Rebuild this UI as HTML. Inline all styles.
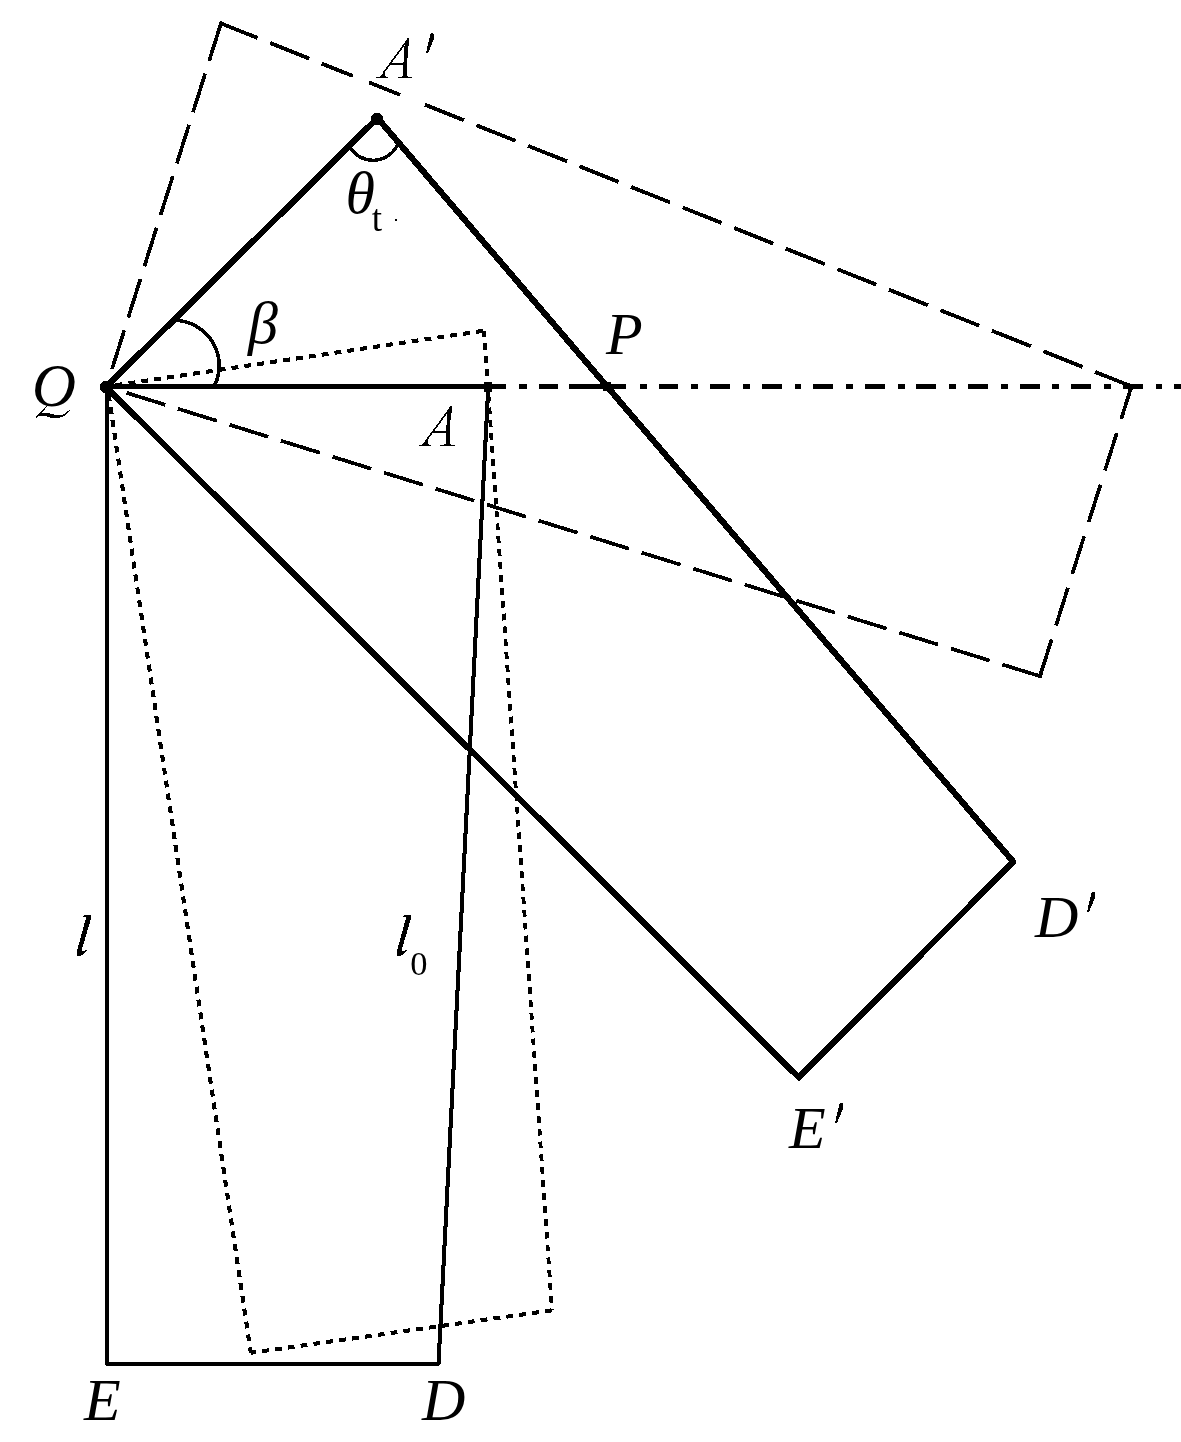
<!DOCTYPE html>
<html><head><meta charset="utf-8"><style>
html,body{margin:0;padding:0;background:#fff;width:1181px;height:1442px;overflow:hidden}
svg{display:block;will-change:transform;shape-rendering:crispEdges}
</style></head><body>
<svg width="1181" height="1442" viewBox="0 0 1181 1442">
<rect width="1181" height="1442" fill="#fff"/>
<g stroke="#000" fill="#000">
<path d="M106.2,386.9 L377.54,117.96 L1013.33,861.87 L798.8,1077.4 Z" fill="none" stroke-width="6.2" stroke-linejoin="round"/>
<path d="M107,386.6 L107,1363.7 L438.5,1363.7 L488.3,386.6" fill="none" stroke-width="4.05" stroke-linejoin="round"/>
<line x1="104" y1="386.6" x2="506.4" y2="386.6" stroke-width="4.8" stroke-linecap="butt"/>
<line x1="518.6" y1="386.5" x2="526.7" y2="386.5" stroke-width="4.9" stroke-linecap="butt"/>
<line x1="538.9" y1="386.5" x2="558.2" y2="386.5" stroke-width="4.9" stroke-linecap="butt"/>
<line x1="569.4" y1="386.5" x2="626.3" y2="386.5" stroke-width="4.9" stroke-linecap="butt"/>
<line x1="639.76" y1="386.5" x2="646.56" y2="386.5" stroke-width="4.9" stroke-linecap="butt"/>
<line x1="658.51" y1="386.5" x2="678.41" y2="386.5" stroke-width="4.9" stroke-linecap="butt"/>
<line x1="691.35" y1="386.5" x2="698.15" y2="386.5" stroke-width="4.9" stroke-linecap="butt"/>
<line x1="710.1" y1="386.5" x2="730" y2="386.5" stroke-width="4.9" stroke-linecap="butt"/>
<line x1="742.94" y1="386.5" x2="749.74" y2="386.5" stroke-width="4.9" stroke-linecap="butt"/>
<line x1="761.69" y1="386.5" x2="781.59" y2="386.5" stroke-width="4.9" stroke-linecap="butt"/>
<line x1="794.53" y1="386.5" x2="801.33" y2="386.5" stroke-width="4.9" stroke-linecap="butt"/>
<line x1="813.28" y1="386.5" x2="833.18" y2="386.5" stroke-width="4.9" stroke-linecap="butt"/>
<line x1="846.12" y1="386.5" x2="852.92" y2="386.5" stroke-width="4.9" stroke-linecap="butt"/>
<line x1="864.87" y1="386.5" x2="884.77" y2="386.5" stroke-width="4.9" stroke-linecap="butt"/>
<line x1="897.71" y1="386.5" x2="904.51" y2="386.5" stroke-width="4.9" stroke-linecap="butt"/>
<line x1="916.46" y1="386.5" x2="936.36" y2="386.5" stroke-width="4.9" stroke-linecap="butt"/>
<line x1="949.3" y1="386.5" x2="956.1" y2="386.5" stroke-width="4.9" stroke-linecap="butt"/>
<line x1="968.05" y1="386.5" x2="987.95" y2="386.5" stroke-width="4.9" stroke-linecap="butt"/>
<line x1="1000.89" y1="386.5" x2="1007.69" y2="386.5" stroke-width="4.9" stroke-linecap="butt"/>
<line x1="1019.64" y1="386.5" x2="1039.54" y2="386.5" stroke-width="4.9" stroke-linecap="butt"/>
<line x1="1052.48" y1="386.5" x2="1059.28" y2="386.5" stroke-width="4.9" stroke-linecap="butt"/>
<line x1="1071.23" y1="386.5" x2="1091.13" y2="386.5" stroke-width="4.9" stroke-linecap="butt"/>
<line x1="1104.07" y1="386.5" x2="1110.87" y2="386.5" stroke-width="4.9" stroke-linecap="butt"/>
<line x1="1122.82" y1="386.5" x2="1142.72" y2="386.5" stroke-width="4.9" stroke-linecap="butt"/>
<line x1="1155.66" y1="386.5" x2="1162.46" y2="386.5" stroke-width="4.9" stroke-linecap="butt"/>
<line x1="1174.41" y1="386.5" x2="1190" y2="386.5" stroke-width="4.9" stroke-linecap="butt"/>
<line x1="221" y1="23.4" x2="257.7" y2="38.03" stroke-width="3.83" stroke-linecap="butt"/>
<line x1="270.25" y1="43.04" x2="309.25" y2="58.58" stroke-width="3.83" stroke-linecap="butt"/>
<line x1="424.9" y1="104.69" x2="463.9" y2="120.24" stroke-width="3.83" stroke-linecap="butt"/>
<line x1="476.45" y1="125.24" x2="515.45" y2="140.79" stroke-width="3.83" stroke-linecap="butt"/>
<line x1="528" y1="145.8" x2="567" y2="161.34" stroke-width="3.83" stroke-linecap="butt"/>
<line x1="579.55" y1="166.35" x2="618.55" y2="181.9" stroke-width="3.83" stroke-linecap="butt"/>
<line x1="631.1" y1="186.9" x2="670.1" y2="202.45" stroke-width="3.83" stroke-linecap="butt"/>
<line x1="682.65" y1="207.45" x2="721.65" y2="223" stroke-width="3.83" stroke-linecap="butt"/>
<line x1="734.2" y1="228" x2="773.2" y2="243.55" stroke-width="3.83" stroke-linecap="butt"/>
<line x1="785.75" y1="248.56" x2="824.75" y2="264.1" stroke-width="3.83" stroke-linecap="butt"/>
<line x1="837.3" y1="269.11" x2="876.3" y2="284.66" stroke-width="3.83" stroke-linecap="butt"/>
<line x1="888.85" y1="289.66" x2="927.85" y2="305.21" stroke-width="3.83" stroke-linecap="butt"/>
<line x1="940.4" y1="310.21" x2="979.4" y2="325.76" stroke-width="3.83" stroke-linecap="butt"/>
<line x1="991.95" y1="330.76" x2="1030.95" y2="346.31" stroke-width="3.83" stroke-linecap="butt"/>
<line x1="1043.5" y1="351.32" x2="1082.5" y2="366.86" stroke-width="3.83" stroke-linecap="butt"/>
<line x1="1095.05" y1="371.87" x2="1131.5" y2="386.4" stroke-width="3.83" stroke-linecap="butt"/>
<line x1="321.8" y1="63.59" x2="352.8" y2="75.95" stroke-width="3.83" stroke-linecap="butt"/>
<line x1="369.1" y1="82.44" x2="400.1" y2="94.8" stroke-width="3.83" stroke-linecap="butt"/>
<line x1="221" y1="23.4" x2="209.18" y2="60.9" stroke-width="3.7" stroke-linecap="butt"/>
<line x1="205.19" y1="73.55" x2="192.99" y2="112.25" stroke-width="3.7" stroke-linecap="butt"/>
<line x1="189" y1="124.9" x2="176.8" y2="163.6" stroke-width="3.7" stroke-linecap="butt"/>
<line x1="172.81" y1="176.25" x2="160.61" y2="214.95" stroke-width="3.7" stroke-linecap="butt"/>
<line x1="156.63" y1="227.6" x2="144.42" y2="266.3" stroke-width="3.7" stroke-linecap="butt"/>
<line x1="140.44" y1="278.95" x2="128.24" y2="317.65" stroke-width="3.7" stroke-linecap="butt"/>
<line x1="124.25" y1="330.3" x2="112.05" y2="369" stroke-width="3.7" stroke-linecap="butt"/>
<line x1="1131.5" y1="386.4" x2="1121.21" y2="419" stroke-width="3.7" stroke-linecap="butt"/>
<line x1="1116.79" y1="433" x2="1104.92" y2="470.6" stroke-width="3.7" stroke-linecap="butt"/>
<line x1="1100.49" y1="484.6" x2="1088.62" y2="522.2" stroke-width="3.7" stroke-linecap="butt"/>
<line x1="1084.2" y1="536.2" x2="1072.33" y2="573.8" stroke-width="3.7" stroke-linecap="butt"/>
<line x1="1067.91" y1="587.8" x2="1056.04" y2="625.4" stroke-width="3.7" stroke-linecap="butt"/>
<line x1="1051.62" y1="639.4" x2="1040" y2="676.2" stroke-width="3.7" stroke-linecap="butt"/>
<line x1="126.5" y1="392.8" x2="165.3" y2="404.84" stroke-width="3.69" stroke-linecap="butt"/>
<line x1="178.02" y1="408.79" x2="216.82" y2="420.82" stroke-width="3.69" stroke-linecap="butt"/>
<line x1="229.54" y1="424.77" x2="268.34" y2="436.81" stroke-width="3.69" stroke-linecap="butt"/>
<line x1="281.06" y1="440.75" x2="319.86" y2="452.79" stroke-width="3.69" stroke-linecap="butt"/>
<line x1="332.58" y1="456.74" x2="371.38" y2="468.77" stroke-width="3.69" stroke-linecap="butt"/>
<line x1="384.1" y1="472.72" x2="422.9" y2="484.76" stroke-width="3.69" stroke-linecap="butt"/>
<line x1="435.62" y1="488.7" x2="474.42" y2="500.74" stroke-width="3.69" stroke-linecap="butt"/>
<line x1="487.14" y1="504.69" x2="525.94" y2="516.72" stroke-width="3.69" stroke-linecap="butt"/>
<line x1="538.66" y1="520.67" x2="577.46" y2="532.71" stroke-width="3.69" stroke-linecap="butt"/>
<line x1="590.18" y1="536.65" x2="628.98" y2="548.69" stroke-width="3.69" stroke-linecap="butt"/>
<line x1="641.7" y1="552.64" x2="680.5" y2="564.67" stroke-width="3.69" stroke-linecap="butt"/>
<line x1="693.22" y1="568.62" x2="732.02" y2="580.66" stroke-width="3.69" stroke-linecap="butt"/>
<line x1="744.74" y1="584.6" x2="783.54" y2="596.64" stroke-width="3.69" stroke-linecap="butt"/>
<line x1="796.26" y1="600.58" x2="835.06" y2="612.62" stroke-width="3.69" stroke-linecap="butt"/>
<line x1="847.78" y1="616.57" x2="886.58" y2="628.6" stroke-width="3.69" stroke-linecap="butt"/>
<line x1="899.3" y1="632.55" x2="938.1" y2="644.59" stroke-width="3.69" stroke-linecap="butt"/>
<line x1="950.82" y1="648.53" x2="989.62" y2="660.57" stroke-width="3.69" stroke-linecap="butt"/>
<line x1="1002.34" y1="664.52" x2="1040" y2="676.2" stroke-width="3.69" stroke-linecap="butt"/>
<path d="M219.5,28.17 L221,23.4 L225.64,25.25" fill="none" stroke-width="3.9" stroke-linejoin="miter"/>
<path d="M1126.86,384.55 L1131.5,386.4 L1129.99,391.17" fill="none" stroke-width="3.9" stroke-linejoin="miter"/>
<path d="M1041.51,671.43 L1040,676.2 L1035.22,674.72" fill="none" stroke-width="3.9" stroke-linejoin="miter"/>
<line x1="106.5" y1="386.6" x2="109.67" y2="386.13" stroke-width="4.09" stroke-linecap="butt"/>
<line x1="115.73" y1="385.23" x2="122.53" y2="384.23" stroke-width="4.09" stroke-linecap="butt"/>
<line x1="128.6" y1="383.33" x2="135.4" y2="382.32" stroke-width="4.09" stroke-linecap="butt"/>
<line x1="141.47" y1="381.42" x2="148.27" y2="380.42" stroke-width="4.09" stroke-linecap="butt"/>
<line x1="154.33" y1="379.52" x2="161.13" y2="378.51" stroke-width="4.09" stroke-linecap="butt"/>
<line x1="167.2" y1="377.61" x2="174" y2="376.6" stroke-width="4.09" stroke-linecap="butt"/>
<line x1="180.07" y1="375.71" x2="186.87" y2="374.7" stroke-width="4.09" stroke-linecap="butt"/>
<line x1="192.94" y1="373.8" x2="199.74" y2="372.79" stroke-width="4.09" stroke-linecap="butt"/>
<line x1="205.8" y1="371.9" x2="212.6" y2="370.89" stroke-width="4.09" stroke-linecap="butt"/>
<line x1="218.67" y1="369.99" x2="225.47" y2="368.98" stroke-width="4.09" stroke-linecap="butt"/>
<line x1="231.54" y1="368.08" x2="238.34" y2="367.08" stroke-width="4.09" stroke-linecap="butt"/>
<line x1="244.4" y1="366.18" x2="251.2" y2="365.17" stroke-width="4.09" stroke-linecap="butt"/>
<line x1="257.27" y1="364.27" x2="264.07" y2="363.27" stroke-width="4.09" stroke-linecap="butt"/>
<line x1="270.14" y1="362.37" x2="276.94" y2="361.36" stroke-width="4.09" stroke-linecap="butt"/>
<line x1="283" y1="360.46" x2="289.8" y2="359.46" stroke-width="4.09" stroke-linecap="butt"/>
<line x1="295.87" y1="358.56" x2="302.67" y2="357.55" stroke-width="4.09" stroke-linecap="butt"/>
<line x1="308.74" y1="356.65" x2="315.54" y2="355.65" stroke-width="4.09" stroke-linecap="butt"/>
<line x1="321.61" y1="354.75" x2="328.41" y2="353.74" stroke-width="4.09" stroke-linecap="butt"/>
<line x1="334.47" y1="352.84" x2="341.27" y2="351.84" stroke-width="4.09" stroke-linecap="butt"/>
<line x1="347.34" y1="350.94" x2="354.14" y2="349.93" stroke-width="4.09" stroke-linecap="butt"/>
<line x1="360.21" y1="349.03" x2="367.01" y2="348.02" stroke-width="4.09" stroke-linecap="butt"/>
<line x1="373.07" y1="347.13" x2="379.87" y2="346.12" stroke-width="4.09" stroke-linecap="butt"/>
<line x1="385.94" y1="345.22" x2="392.74" y2="344.21" stroke-width="4.09" stroke-linecap="butt"/>
<line x1="398.81" y1="343.32" x2="405.61" y2="342.31" stroke-width="4.09" stroke-linecap="butt"/>
<line x1="411.67" y1="341.41" x2="418.47" y2="340.4" stroke-width="4.09" stroke-linecap="butt"/>
<line x1="424.54" y1="339.5" x2="431.34" y2="338.5" stroke-width="4.09" stroke-linecap="butt"/>
<line x1="437.41" y1="337.6" x2="444.21" y2="336.59" stroke-width="4.09" stroke-linecap="butt"/>
<line x1="450.27" y1="335.69" x2="457.07" y2="334.69" stroke-width="4.09" stroke-linecap="butt"/>
<line x1="463.14" y1="333.79" x2="469.94" y2="332.78" stroke-width="4.09" stroke-linecap="butt"/>
<line x1="476.01" y1="331.88" x2="482.81" y2="330.88" stroke-width="4.09" stroke-linecap="butt"/>
<line x1="484" y1="330.7" x2="484.45" y2="337.12" stroke-width="3.84" stroke-linecap="butt"/>
<line x1="484.87" y1="343.2" x2="485.34" y2="350" stroke-width="3.84" stroke-linecap="butt"/>
<line x1="485.76" y1="356.08" x2="486.23" y2="362.88" stroke-width="3.84" stroke-linecap="butt"/>
<line x1="486.66" y1="368.95" x2="487.13" y2="375.75" stroke-width="3.84" stroke-linecap="butt"/>
<line x1="487.55" y1="381.83" x2="488.02" y2="388.63" stroke-width="3.84" stroke-linecap="butt"/>
<line x1="488.44" y1="394.71" x2="488.92" y2="401.51" stroke-width="3.84" stroke-linecap="butt"/>
<line x1="489.34" y1="407.58" x2="489.81" y2="414.38" stroke-width="3.84" stroke-linecap="butt"/>
<line x1="490.23" y1="420.46" x2="490.7" y2="427.26" stroke-width="3.84" stroke-linecap="butt"/>
<line x1="491.12" y1="433.34" x2="491.6" y2="440.14" stroke-width="3.84" stroke-linecap="butt"/>
<line x1="492.02" y1="446.22" x2="492.49" y2="453.02" stroke-width="3.84" stroke-linecap="butt"/>
<line x1="492.91" y1="459.09" x2="493.38" y2="465.89" stroke-width="3.84" stroke-linecap="butt"/>
<line x1="493.81" y1="471.97" x2="494.28" y2="478.77" stroke-width="3.84" stroke-linecap="butt"/>
<line x1="494.7" y1="484.85" x2="495.17" y2="491.65" stroke-width="3.84" stroke-linecap="butt"/>
<line x1="495.59" y1="497.72" x2="496.07" y2="504.52" stroke-width="3.84" stroke-linecap="butt"/>
<line x1="496.49" y1="510.6" x2="496.96" y2="517.4" stroke-width="3.84" stroke-linecap="butt"/>
<line x1="497.38" y1="523.48" x2="497.85" y2="530.28" stroke-width="3.84" stroke-linecap="butt"/>
<line x1="498.28" y1="536.36" x2="498.75" y2="543.15" stroke-width="3.84" stroke-linecap="butt"/>
<line x1="499.17" y1="549.23" x2="499.64" y2="556.03" stroke-width="3.84" stroke-linecap="butt"/>
<line x1="500.06" y1="562.11" x2="500.54" y2="568.91" stroke-width="3.84" stroke-linecap="butt"/>
<line x1="500.96" y1="574.99" x2="501.43" y2="581.79" stroke-width="3.84" stroke-linecap="butt"/>
<line x1="501.85" y1="587.86" x2="502.32" y2="594.66" stroke-width="3.84" stroke-linecap="butt"/>
<line x1="502.75" y1="600.74" x2="503.22" y2="607.54" stroke-width="3.84" stroke-linecap="butt"/>
<line x1="503.64" y1="613.62" x2="504.11" y2="620.42" stroke-width="3.84" stroke-linecap="butt"/>
<line x1="504.53" y1="626.49" x2="505" y2="633.29" stroke-width="3.84" stroke-linecap="butt"/>
<line x1="505.43" y1="639.37" x2="505.9" y2="646.17" stroke-width="3.84" stroke-linecap="butt"/>
<line x1="506.32" y1="652.25" x2="506.79" y2="659.05" stroke-width="3.84" stroke-linecap="butt"/>
<line x1="507.21" y1="665.12" x2="507.69" y2="671.92" stroke-width="3.84" stroke-linecap="butt"/>
<line x1="508.11" y1="678" x2="508.58" y2="684.8" stroke-width="3.84" stroke-linecap="butt"/>
<line x1="509" y1="690.88" x2="509.47" y2="697.68" stroke-width="3.84" stroke-linecap="butt"/>
<line x1="509.9" y1="703.76" x2="510.37" y2="710.56" stroke-width="3.84" stroke-linecap="butt"/>
<line x1="510.79" y1="716.63" x2="511.26" y2="723.43" stroke-width="3.84" stroke-linecap="butt"/>
<line x1="511.68" y1="729.51" x2="512.16" y2="736.31" stroke-width="3.84" stroke-linecap="butt"/>
<line x1="512.58" y1="742.39" x2="513.05" y2="749.19" stroke-width="3.84" stroke-linecap="butt"/>
<line x1="513.47" y1="755.26" x2="513.94" y2="762.06" stroke-width="3.84" stroke-linecap="butt"/>
<line x1="514.37" y1="768.14" x2="514.84" y2="774.94" stroke-width="3.84" stroke-linecap="butt"/>
<line x1="515.26" y1="781.02" x2="515.73" y2="787.82" stroke-width="3.84" stroke-linecap="butt"/>
<line x1="516.15" y1="793.89" x2="516.63" y2="800.69" stroke-width="3.84" stroke-linecap="butt"/>
<line x1="517.05" y1="806.77" x2="517.52" y2="813.57" stroke-width="3.84" stroke-linecap="butt"/>
<line x1="517.94" y1="819.65" x2="518.41" y2="826.45" stroke-width="3.84" stroke-linecap="butt"/>
<line x1="518.83" y1="832.53" x2="519.31" y2="839.33" stroke-width="3.84" stroke-linecap="butt"/>
<line x1="519.73" y1="845.4" x2="520.2" y2="852.2" stroke-width="3.84" stroke-linecap="butt"/>
<line x1="520.62" y1="858.28" x2="521.09" y2="865.08" stroke-width="3.84" stroke-linecap="butt"/>
<line x1="521.52" y1="871.16" x2="521.99" y2="877.96" stroke-width="3.84" stroke-linecap="butt"/>
<line x1="522.41" y1="884.03" x2="522.88" y2="890.83" stroke-width="3.84" stroke-linecap="butt"/>
<line x1="523.3" y1="896.91" x2="523.78" y2="903.71" stroke-width="3.84" stroke-linecap="butt"/>
<line x1="524.2" y1="909.79" x2="524.67" y2="916.59" stroke-width="3.84" stroke-linecap="butt"/>
<line x1="525.09" y1="922.66" x2="525.56" y2="929.46" stroke-width="3.84" stroke-linecap="butt"/>
<line x1="525.99" y1="935.54" x2="526.46" y2="942.34" stroke-width="3.84" stroke-linecap="butt"/>
<line x1="526.88" y1="948.42" x2="527.35" y2="955.22" stroke-width="3.84" stroke-linecap="butt"/>
<line x1="527.77" y1="961.3" x2="528.25" y2="968.1" stroke-width="3.84" stroke-linecap="butt"/>
<line x1="528.67" y1="974.17" x2="529.14" y2="980.97" stroke-width="3.84" stroke-linecap="butt"/>
<line x1="529.56" y1="987.05" x2="530.03" y2="993.85" stroke-width="3.84" stroke-linecap="butt"/>
<line x1="530.46" y1="999.93" x2="530.93" y2="1006.73" stroke-width="3.84" stroke-linecap="butt"/>
<line x1="531.35" y1="1012.8" x2="531.82" y2="1019.6" stroke-width="3.84" stroke-linecap="butt"/>
<line x1="532.24" y1="1025.68" x2="532.71" y2="1032.48" stroke-width="3.84" stroke-linecap="butt"/>
<line x1="533.14" y1="1038.56" x2="533.61" y2="1045.36" stroke-width="3.84" stroke-linecap="butt"/>
<line x1="534.03" y1="1051.43" x2="534.5" y2="1058.23" stroke-width="3.84" stroke-linecap="butt"/>
<line x1="534.92" y1="1064.31" x2="535.4" y2="1071.11" stroke-width="3.84" stroke-linecap="butt"/>
<line x1="535.82" y1="1077.19" x2="536.29" y2="1083.99" stroke-width="3.84" stroke-linecap="butt"/>
<line x1="536.71" y1="1090.07" x2="537.18" y2="1096.87" stroke-width="3.84" stroke-linecap="butt"/>
<line x1="537.61" y1="1102.94" x2="538.08" y2="1109.74" stroke-width="3.84" stroke-linecap="butt"/>
<line x1="538.5" y1="1115.82" x2="538.97" y2="1122.62" stroke-width="3.84" stroke-linecap="butt"/>
<line x1="539.39" y1="1128.7" x2="539.87" y2="1135.5" stroke-width="3.84" stroke-linecap="butt"/>
<line x1="540.29" y1="1141.57" x2="540.76" y2="1148.37" stroke-width="3.84" stroke-linecap="butt"/>
<line x1="541.18" y1="1154.45" x2="541.65" y2="1161.25" stroke-width="3.84" stroke-linecap="butt"/>
<line x1="542.08" y1="1167.33" x2="542.55" y2="1174.13" stroke-width="3.84" stroke-linecap="butt"/>
<line x1="542.97" y1="1180.2" x2="543.44" y2="1187" stroke-width="3.84" stroke-linecap="butt"/>
<line x1="543.86" y1="1193.08" x2="544.34" y2="1199.88" stroke-width="3.84" stroke-linecap="butt"/>
<line x1="544.76" y1="1205.96" x2="545.23" y2="1212.76" stroke-width="3.84" stroke-linecap="butt"/>
<line x1="545.65" y1="1218.84" x2="546.12" y2="1225.64" stroke-width="3.84" stroke-linecap="butt"/>
<line x1="546.54" y1="1231.71" x2="547.02" y2="1238.51" stroke-width="3.84" stroke-linecap="butt"/>
<line x1="547.44" y1="1244.59" x2="547.91" y2="1251.39" stroke-width="3.84" stroke-linecap="butt"/>
<line x1="548.33" y1="1257.47" x2="548.8" y2="1264.27" stroke-width="3.84" stroke-linecap="butt"/>
<line x1="549.23" y1="1270.34" x2="549.7" y2="1277.14" stroke-width="3.84" stroke-linecap="butt"/>
<line x1="550.12" y1="1283.22" x2="550.59" y2="1290.02" stroke-width="3.84" stroke-linecap="butt"/>
<line x1="551.01" y1="1296.1" x2="551.49" y2="1302.9" stroke-width="3.84" stroke-linecap="butt"/>
<line x1="551.91" y1="1308.98" x2="552" y2="1310.3" stroke-width="3.84" stroke-linecap="butt"/>
<line x1="250.8" y1="1352.8" x2="255.94" y2="1352.07" stroke-width="4.07" stroke-linecap="butt"/>
<line x1="262" y1="1351.22" x2="268.8" y2="1350.26" stroke-width="4.07" stroke-linecap="butt"/>
<line x1="274.86" y1="1349.41" x2="281.66" y2="1348.45" stroke-width="4.07" stroke-linecap="butt"/>
<line x1="287.72" y1="1347.59" x2="294.52" y2="1346.63" stroke-width="4.07" stroke-linecap="butt"/>
<line x1="300.58" y1="1345.78" x2="307.38" y2="1344.82" stroke-width="4.07" stroke-linecap="butt"/>
<line x1="313.44" y1="1343.96" x2="320.24" y2="1343" stroke-width="4.07" stroke-linecap="butt"/>
<line x1="326.3" y1="1342.15" x2="333.1" y2="1341.19" stroke-width="4.07" stroke-linecap="butt"/>
<line x1="339.16" y1="1340.33" x2="345.96" y2="1339.37" stroke-width="4.07" stroke-linecap="butt"/>
<line x1="352.02" y1="1338.52" x2="358.82" y2="1337.56" stroke-width="4.07" stroke-linecap="butt"/>
<line x1="364.88" y1="1336.7" x2="371.68" y2="1335.74" stroke-width="4.07" stroke-linecap="butt"/>
<line x1="377.74" y1="1334.89" x2="384.54" y2="1333.93" stroke-width="4.07" stroke-linecap="butt"/>
<line x1="390.6" y1="1333.07" x2="397.4" y2="1332.11" stroke-width="4.07" stroke-linecap="butt"/>
<line x1="403.46" y1="1331.26" x2="410.26" y2="1330.3" stroke-width="4.07" stroke-linecap="butt"/>
<line x1="416.32" y1="1329.44" x2="423.12" y2="1328.49" stroke-width="4.07" stroke-linecap="butt"/>
<line x1="429.18" y1="1327.63" x2="435.98" y2="1326.67" stroke-width="4.07" stroke-linecap="butt"/>
<line x1="442.04" y1="1325.82" x2="448.84" y2="1324.86" stroke-width="4.07" stroke-linecap="butt"/>
<line x1="454.9" y1="1324" x2="461.7" y2="1323.04" stroke-width="4.07" stroke-linecap="butt"/>
<line x1="467.76" y1="1322.19" x2="474.56" y2="1321.23" stroke-width="4.07" stroke-linecap="butt"/>
<line x1="480.62" y1="1320.37" x2="487.42" y2="1319.41" stroke-width="4.07" stroke-linecap="butt"/>
<line x1="493.48" y1="1318.56" x2="500.28" y2="1317.6" stroke-width="4.07" stroke-linecap="butt"/>
<line x1="506.34" y1="1316.74" x2="513.14" y2="1315.78" stroke-width="4.07" stroke-linecap="butt"/>
<line x1="519.2" y1="1314.93" x2="526" y2="1313.97" stroke-width="4.07" stroke-linecap="butt"/>
<line x1="532.06" y1="1313.11" x2="538.86" y2="1312.15" stroke-width="4.07" stroke-linecap="butt"/>
<line x1="544.92" y1="1311.3" x2="551.72" y2="1310.34" stroke-width="4.07" stroke-linecap="butt"/>
<line x1="107.5" y1="386.6" x2="107.73" y2="388.12" stroke-width="4.09" stroke-linecap="butt"/>
<line x1="108.63" y1="394.2" x2="109.64" y2="401" stroke-width="4.09" stroke-linecap="butt"/>
<line x1="110.54" y1="407.08" x2="111.55" y2="413.88" stroke-width="4.09" stroke-linecap="butt"/>
<line x1="112.45" y1="419.96" x2="113.46" y2="426.76" stroke-width="4.09" stroke-linecap="butt"/>
<line x1="114.36" y1="432.84" x2="115.37" y2="439.64" stroke-width="4.09" stroke-linecap="butt"/>
<line x1="116.27" y1="445.72" x2="117.28" y2="452.52" stroke-width="4.09" stroke-linecap="butt"/>
<line x1="118.18" y1="458.6" x2="119.19" y2="465.4" stroke-width="4.09" stroke-linecap="butt"/>
<line x1="120.09" y1="471.48" x2="121.1" y2="478.28" stroke-width="4.09" stroke-linecap="butt"/>
<line x1="122" y1="484.36" x2="123.01" y2="491.16" stroke-width="4.09" stroke-linecap="butt"/>
<line x1="123.91" y1="497.24" x2="124.92" y2="504.04" stroke-width="4.09" stroke-linecap="butt"/>
<line x1="125.82" y1="510.12" x2="126.83" y2="516.92" stroke-width="4.09" stroke-linecap="butt"/>
<line x1="127.73" y1="523" x2="128.74" y2="529.8" stroke-width="4.09" stroke-linecap="butt"/>
<line x1="129.64" y1="535.88" x2="130.65" y2="542.68" stroke-width="4.09" stroke-linecap="butt"/>
<line x1="131.55" y1="548.76" x2="132.56" y2="555.56" stroke-width="4.09" stroke-linecap="butt"/>
<line x1="133.46" y1="561.64" x2="134.47" y2="568.44" stroke-width="4.09" stroke-linecap="butt"/>
<line x1="135.37" y1="574.52" x2="136.38" y2="581.32" stroke-width="4.09" stroke-linecap="butt"/>
<line x1="137.28" y1="587.4" x2="138.29" y2="594.2" stroke-width="4.09" stroke-linecap="butt"/>
<line x1="139.19" y1="600.28" x2="140.2" y2="607.08" stroke-width="4.09" stroke-linecap="butt"/>
<line x1="141.1" y1="613.16" x2="142.11" y2="619.96" stroke-width="4.09" stroke-linecap="butt"/>
<line x1="143.01" y1="626.04" x2="144.02" y2="632.84" stroke-width="4.09" stroke-linecap="butt"/>
<line x1="144.92" y1="638.92" x2="145.93" y2="645.72" stroke-width="4.09" stroke-linecap="butt"/>
<line x1="146.83" y1="651.8" x2="147.84" y2="658.6" stroke-width="4.09" stroke-linecap="butt"/>
<line x1="148.74" y1="664.68" x2="149.75" y2="671.48" stroke-width="4.09" stroke-linecap="butt"/>
<line x1="150.65" y1="677.56" x2="151.66" y2="684.36" stroke-width="4.09" stroke-linecap="butt"/>
<line x1="152.56" y1="690.44" x2="153.57" y2="697.24" stroke-width="4.09" stroke-linecap="butt"/>
<line x1="154.47" y1="703.32" x2="155.48" y2="710.12" stroke-width="4.09" stroke-linecap="butt"/>
<line x1="156.38" y1="716.2" x2="157.39" y2="723" stroke-width="4.09" stroke-linecap="butt"/>
<line x1="158.29" y1="729.08" x2="159.3" y2="735.88" stroke-width="4.09" stroke-linecap="butt"/>
<line x1="160.2" y1="741.96" x2="161.21" y2="748.76" stroke-width="4.09" stroke-linecap="butt"/>
<line x1="162.11" y1="754.84" x2="163.12" y2="761.64" stroke-width="4.09" stroke-linecap="butt"/>
<line x1="164.03" y1="767.72" x2="165.03" y2="774.52" stroke-width="4.09" stroke-linecap="butt"/>
<line x1="165.94" y1="780.6" x2="166.94" y2="787.4" stroke-width="4.09" stroke-linecap="butt"/>
<line x1="167.85" y1="793.48" x2="168.85" y2="800.28" stroke-width="4.09" stroke-linecap="butt"/>
<line x1="169.76" y1="806.36" x2="170.76" y2="813.16" stroke-width="4.09" stroke-linecap="butt"/>
<line x1="171.67" y1="819.24" x2="172.67" y2="826.04" stroke-width="4.09" stroke-linecap="butt"/>
<line x1="173.58" y1="832.12" x2="174.58" y2="838.92" stroke-width="4.09" stroke-linecap="butt"/>
<line x1="175.49" y1="845" x2="176.5" y2="851.8" stroke-width="4.09" stroke-linecap="butt"/>
<line x1="177.4" y1="857.88" x2="178.41" y2="864.68" stroke-width="4.09" stroke-linecap="butt"/>
<line x1="179.31" y1="870.76" x2="180.32" y2="877.56" stroke-width="4.09" stroke-linecap="butt"/>
<line x1="181.22" y1="883.64" x2="182.23" y2="890.44" stroke-width="4.09" stroke-linecap="butt"/>
<line x1="183.13" y1="896.52" x2="184.14" y2="903.32" stroke-width="4.09" stroke-linecap="butt"/>
<line x1="185.04" y1="909.4" x2="186.05" y2="916.2" stroke-width="4.09" stroke-linecap="butt"/>
<line x1="186.95" y1="922.28" x2="187.96" y2="929.08" stroke-width="4.09" stroke-linecap="butt"/>
<line x1="188.86" y1="935.16" x2="189.87" y2="941.96" stroke-width="4.09" stroke-linecap="butt"/>
<line x1="190.77" y1="948.04" x2="191.78" y2="954.84" stroke-width="4.09" stroke-linecap="butt"/>
<line x1="192.68" y1="960.92" x2="193.69" y2="967.72" stroke-width="4.09" stroke-linecap="butt"/>
<line x1="194.59" y1="973.8" x2="195.6" y2="980.6" stroke-width="4.09" stroke-linecap="butt"/>
<line x1="196.5" y1="986.68" x2="197.51" y2="993.48" stroke-width="4.09" stroke-linecap="butt"/>
<line x1="198.41" y1="999.56" x2="199.42" y2="1006.36" stroke-width="4.09" stroke-linecap="butt"/>
<line x1="200.32" y1="1012.44" x2="201.33" y2="1019.24" stroke-width="4.09" stroke-linecap="butt"/>
<line x1="202.23" y1="1025.32" x2="203.24" y2="1032.12" stroke-width="4.09" stroke-linecap="butt"/>
<line x1="204.14" y1="1038.2" x2="205.15" y2="1045" stroke-width="4.09" stroke-linecap="butt"/>
<line x1="206.05" y1="1051.08" x2="207.06" y2="1057.88" stroke-width="4.09" stroke-linecap="butt"/>
<line x1="207.96" y1="1063.96" x2="208.97" y2="1070.76" stroke-width="4.09" stroke-linecap="butt"/>
<line x1="209.87" y1="1076.84" x2="210.88" y2="1083.64" stroke-width="4.09" stroke-linecap="butt"/>
<line x1="211.78" y1="1089.72" x2="212.79" y2="1096.52" stroke-width="4.09" stroke-linecap="butt"/>
<line x1="213.69" y1="1102.6" x2="214.7" y2="1109.4" stroke-width="4.09" stroke-linecap="butt"/>
<line x1="215.6" y1="1115.48" x2="216.61" y2="1122.28" stroke-width="4.09" stroke-linecap="butt"/>
<line x1="217.51" y1="1128.36" x2="218.52" y2="1135.16" stroke-width="4.09" stroke-linecap="butt"/>
<line x1="219.42" y1="1141.24" x2="220.43" y2="1148.04" stroke-width="4.09" stroke-linecap="butt"/>
<line x1="221.33" y1="1154.12" x2="222.34" y2="1160.92" stroke-width="4.09" stroke-linecap="butt"/>
<line x1="223.24" y1="1167" x2="224.25" y2="1173.8" stroke-width="4.09" stroke-linecap="butt"/>
<line x1="225.15" y1="1179.88" x2="226.16" y2="1186.68" stroke-width="4.09" stroke-linecap="butt"/>
<line x1="227.06" y1="1192.76" x2="228.07" y2="1199.56" stroke-width="4.09" stroke-linecap="butt"/>
<line x1="228.97" y1="1205.64" x2="229.98" y2="1212.44" stroke-width="4.09" stroke-linecap="butt"/>
<line x1="230.88" y1="1218.52" x2="231.89" y2="1225.32" stroke-width="4.09" stroke-linecap="butt"/>
<line x1="232.79" y1="1231.4" x2="233.8" y2="1238.2" stroke-width="4.09" stroke-linecap="butt"/>
<line x1="234.71" y1="1244.28" x2="235.71" y2="1251.08" stroke-width="4.09" stroke-linecap="butt"/>
<line x1="236.62" y1="1257.16" x2="237.62" y2="1263.96" stroke-width="4.09" stroke-linecap="butt"/>
<line x1="238.53" y1="1270.04" x2="239.53" y2="1276.84" stroke-width="4.09" stroke-linecap="butt"/>
<line x1="240.44" y1="1282.92" x2="241.44" y2="1289.72" stroke-width="4.09" stroke-linecap="butt"/>
<line x1="242.35" y1="1295.8" x2="243.35" y2="1302.6" stroke-width="4.09" stroke-linecap="butt"/>
<line x1="244.26" y1="1308.68" x2="245.26" y2="1315.48" stroke-width="4.09" stroke-linecap="butt"/>
<line x1="246.17" y1="1321.56" x2="247.18" y2="1328.36" stroke-width="4.09" stroke-linecap="butt"/>
<line x1="248.08" y1="1334.44" x2="249.09" y2="1341.24" stroke-width="4.09" stroke-linecap="butt"/>
<line x1="249.99" y1="1347.32" x2="250.8" y2="1352.8" stroke-width="4.09" stroke-linecap="butt"/>
<circle cx="106.3" cy="387" r="6"/>
<circle cx="377" cy="119" r="5.8"/>
<rect x="484.8" y="382" width="7" height="9"/>
<rect x="603.5" y="382.5" width="7" height="8"/>
<path d="M173.39,320.3 A45.4,45.4 0 0 1 214.1,386.6" fill="none" stroke-width="3.6"/>
<path d="M349.27,145.99 A27,27 0 0 0 398.19,143.28" fill="none" stroke-width="3.4"/>
</g>
<g fill="#000" font-family="Liberation Serif">
<text x="84.1" y="1420" font-size="60" font-style="italic">E</text>
<text x="421.9" y="1420" font-size="60" font-style="italic">D</text>
<path d="M450.1,406.1 L452,406.1 L451.9,413.3 L450.8,413.7 L449.9,432.2 L449.9,444 L451,444.8 L454.8,444.8 L454.8,445.9 L440.2,445.9 L440.2,444.8 L443.8,444.8 L445.6,443.9 L446.1,442.7 L446.1,432.2 L447.2,413.7 L447.5,410.4 Z M421.7,444.9 L427.4,439.7 L428.1,443.7 L429.1,444.9 Z"/>
<rect x="419" y="444.8" width="11.8" height="1.1"/>
<rect x="432.7" y="431.1" width="14.2" height="1.7"/>
<line x1="426" y1="440.9" x2="450.7" y2="407.3" stroke="#000" stroke-width="1.6"/>
<path d="M407.4,38.2 L409.3,38.2 L409.2,45.4 L408.1,45.8 L407.2,64.3 L407.2,76.1 L408.3,76.9 L412.1,76.9 L412.1,78 L397.5,78 L397.5,76.9 L401.1,76.9 L402.9,76 L403.4,74.8 L403.4,64.3 L404.5,45.8 L404.8,42.5 Z M379,77 L384.7,71.8 L385.4,75.8 L386.4,77 Z"/>
<rect x="376.3" y="76.9" width="11.8" height="1.1"/>
<rect x="390" y="63.2" width="14.2" height="1.7"/>
<line x1="383.3" y1="73" x2="408" y2="39.4" stroke="#000" stroke-width="1.6"/>
<text x="606" y="354" font-size="60" font-style="italic">P</text>
<text x="31.9" y="406.4" font-size="61" font-style="italic">O</text>
<path d="M38.5,415.7 L41.4,413.2 L49.5,413.2 L53.7,414.5 L63,414.9 L65.1,413.2 L69.6,410 L70.4,410.5 L64.7,415.7 L59.6,417.65 L50.3,417.65 L44.8,415.7 Z"/>
<line x1="46.6" y1="406.3" x2="36.1" y2="417.7" stroke="#000" stroke-width="1.3"/>
<path d="M82.9,915.7 L86.9,915.1 L91,915.1 L91,918.5 L81.9,949.5 L82,951.2 L83.3,951.2 L86.6,949.6 L87.2,950.1 L83.9,953.8 L80.8,955.7 L77.1,955.7 L77.2,950.3 L85.9,918.3 L86.2,916.8 L82.9,916.8 Z"/>
<path d="M402.9,915.6 L406.9,915 L411,915 L411,918.4 L401.9,949.4 L402,951.1 L403.3,951.1 L406.6,949.5 L407.2,950 L403.9,953.7 L400.8,955.6 L397.1,955.6 L397.2,950.2 L405.9,918.2 L406.2,916.7 L402.9,916.7 Z"/>
<text x="248" y="343" font-size="60" font-style="italic">&#946;</text>
<text x="345.5" y="212.9" font-size="60" font-style="italic">&#952;</text>
<text x="1035" y="937" font-size="60" font-style="italic">D</text>
<text x="789" y="1148" font-size="60" font-style="italic">E</text>
<text x="371.7" y="231" font-size="37">t</text>
<text x="410.3" y="975" font-size="34.5">0</text>
<path d="M839.8,1103.2 L842.3,1103 L843.2,1105 L843.1,1108.5 L837,1123 L835,1123 L839,1105.5 Z"/>
<path d="M1091.8,892.1 L1094.3,891.9 L1095.2,893.9 L1095.1,897.4 L1089,911.9 L1087,911.9 L1091,894.4 Z"/>
<path d="M430.8,33.3 L433.3,33.1 L434.2,35.1 L434.1,38.6 L428,53.1 L426,53.1 L430,35.6 Z"/>
<rect x="394.5" y="219" width="2" height="2"/>
</g>
</svg>
</body></html>
